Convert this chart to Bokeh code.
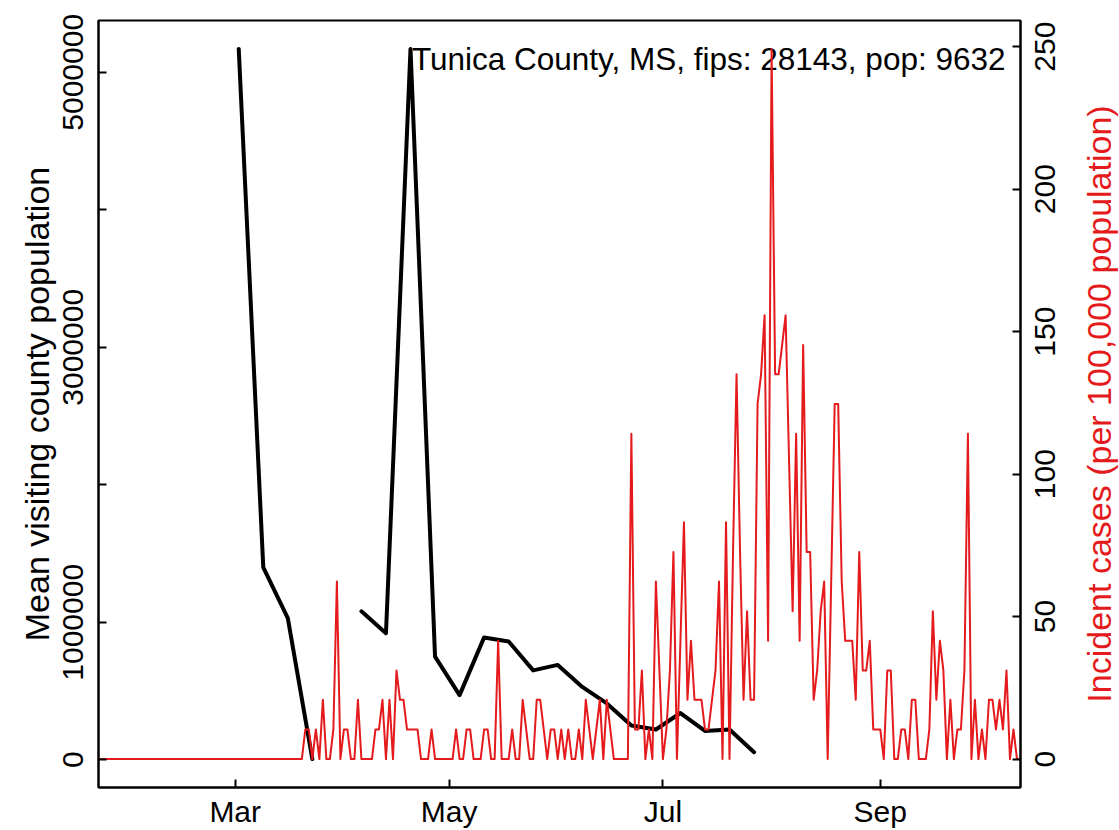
import math
import numpy as np
import pandas as pd
from bokeh.plotting import figure
from bokeh.layouts import row
from bokeh.models import (Range1d, LinearAxis, FixedTicker, Label,
                          DatetimeTickFormatter, ColumnDataSource)
from bokeh.core.properties import value
from bokeh.embed import file_html
from bokeh.resources import INLINE

county_text = "Tunica County, MS, fips: 28143, pop: 9632"

# ---- daily incident cases per 100,000 population (2020-01-22 .. 2020-10-11) ----
inc_jan = [0, 0, 0, 0, 0, 0, 0, 0, 0, 0]
inc_feb = [0, 0, 0, 0, 0, 0, 0, 0, 0, 0, 0, 0, 0, 0, 0, 0, 0, 0, 0, 0,
           0, 0, 0, 0, 0, 0, 0, 0, 0]
inc_mar = [0, 0, 0, 0, 0, 0, 0, 0, 0, 0, 0, 0, 0, 0, 0, 0, 0, 0, 0, 0,
           10.4, 10.4, 0, 10.4, 0, 20.8, 0, 0, 10.4, 62.3, 0]
inc_apr = [10.4, 10.4, 0, 0, 20.8, 0, 0, 0, 0, 10.4,
           10.4, 20.8, 0, 20.8, 0, 31.1, 20.8, 20.8, 10.4, 10.4,
           10.4, 10.4, 0, 0, 0, 10.4, 0, 0, 0, 0]
inc_may = [0, 0, 10.4, 0, 0, 10.4, 10.4, 0, 0, 0,
           10.4, 10.4, 0, 0, 41.5, 0, 0, 0, 10.4, 0,
           0, 20.8, 10.4, 0, 0, 20.8, 20.8, 10.4, 0, 10.4, 10.4]
inc_jun = [0, 10.4, 0, 10.4, 0, 0, 10.4, 0, 20.8, 10.4,
           0, 10.4, 20.8, 0, 20.8, 10.4, 0, 0, 0, 0,
           0, 114.2, 10.4, 10.4, 31.1, 0, 10.4, 0, 62.3, 31.1]
inc_jul = [0, 10.4, 31.1, 72.7, 0, 41.5, 83.1, 20.8, 41.5, 20.8,
           20.8, 20.8, 10.4, 10.4, 20.8, 31.1, 62.3, 0, 83.1, 0,
           72.7, 135.0, 72.7, 20.8, 51.9, 20.8, 20.8, 124.6, 135.0, 155.7, 41.5]
inc_aug = [249.2, 135.0, 135.0, 145.3, 155.7, 103.8, 51.9, 114.2, 41.5, 145.3,
           72.7, 72.7, 20.8, 31.1, 51.9, 62.3, 0, 62.3, 124.6, 124.6,
           62.3, 41.5, 41.5, 41.5, 20.8, 72.7, 31.1, 31.1, 41.5, 10.4, 10.4]
inc_sep = [10.4, 0, 31.1, 31.1, 0, 0, 10.4, 10.4, 0, 20.8,
           20.8, 0, 0, 0, 10.4, 51.9, 20.8, 41.5, 31.1, 0,
           20.8, 0, 10.4, 10.4, 31.1, 114.2, 0, 20.8, 0, 10.4]
inc_oct = [0, 20.8, 20.8, 10.4, 20.8, 10.4, 31.1, 0, 10.4, 0, 0]

# ---- weekly mean visiting county population ----
visit_start = "2020-03-02"
visit_vals = [5170000, 1400000, 1030000, 5000, np.nan, 1080000, 920000,
              5170000, 750000, 470000, 890000, 860000, 650000, 690000,
              530000, 410000, 250000, 220000, 340000, 210000, 220000, 55000]

# ---- tick labels / titles ----
month_ticks = ["2020-03-01", "2020-05-01", "2020-07-01", "2020-09-01"]
left_ticks = [0, 1000000, 2000000, 3000000, 4000000, 5000000]
left_labels = ["0", "1000000", "", "3000000", "", "5000000"]
right_ticks = [0, 50, 100, 150, 200, 250]
right_labels = ["0", "50", "100", "150", "200", "250"]
left_title = "Mean visiting county population"
right_title = "Incident cases (per 100,000 population)"

incidence = (inc_jan + inc_feb + inc_mar + inc_apr + inc_may + inc_jun +
             inc_jul + inc_aug + inc_sep + inc_oct)
inc_dates = pd.date_range("2020-01-22", periods=len(incidence), freq="D")
visit_dates = pd.date_range(visit_start, periods=len(visit_vals), freq="7D")

RED = "#E41A1C"
FONT = "Liberation Sans"
TICK_FS = "30px"
TITLE_FS = "34px"

FW, FH = 922, 767          # plot frame
TOP, BOTTOM = 20, 43       # borders above / below the frame
LEFT, RIGHT = 98, 2
SIDE_W = 1119 - LEFT - FW - RIGHT


def padded(vals):
    a = np.array(vals, dtype=float)
    lo, hi = np.nanmin(a), np.nanmax(a)
    d = hi - lo
    return lo - 0.04 * d, hi + 0.04 * d


ylo, yhi = padded(visit_vals)
rlo, rhi = padded(incidence)
inc_range = Range1d(rlo, rhi)

p = figure(frame_width=FW, frame_height=FH,
           min_border_left=LEFT, min_border_top=TOP,
           min_border_right=RIGHT, min_border_bottom=BOTTOM,
           x_axis_type="datetime",
           x_range=Range1d(inc_dates[0], inc_dates[-1]),
           y_range=Range1d(ylo, yhi),
           output_backend="svg", toolbar_location=None)
p.extra_y_ranges = {"inc": inc_range}
p.grid.visible = False
p.background_fill_color = "white"
p.border_fill_color = "white"
p.outline_line_color = "black"
p.outline_line_width = 2

# visiting population (left axis)
vsrc = ColumnDataSource(dict(x=visit_dates, y=visit_vals))
p.line("x", "y", source=vsrc, line_color="black", line_width=4,
       line_join="round", line_cap="round")

# county label (drawn under the red series)
p.add_layout(Label(x=FW - 15, y=FH - 38, x_units="screen", y_units="screen",
                   text=county_text, text_align="right",
                   text_baseline="alphabetic", text_font=FONT,
                   text_font_size="31.5px", text_color="black",
                   level="underlay"))

# incident cases (right axis)
isrc = ColumnDataSource(dict(x=inc_dates, y=incidence))
p.line("x", "y", source=isrc, line_color=RED, line_width=2,
       y_range_name="inc", line_join="round", line_cap="round")

raxis = LinearAxis(y_range_name="inc")
p.add_layout(raxis, "right")


def style_axis(ax):
    ax.axis_line_color = "black"
    ax.axis_line_width = 2
    ax.major_tick_line_color = "black"
    ax.major_tick_line_width = 2
    ax.major_tick_in = 8
    ax.major_tick_out = 0
    ax.minor_tick_line_color = None
    ax.major_label_text_font = FONT
    ax.major_label_text_font_size = TICK_FS
    ax.major_label_text_color = "black"
    ax.axis_label_text_font = FONT
    ax.axis_label_text_font_size = TITLE_FS
    ax.axis_label_text_font_style = "normal"
    ax.axis_label_text_color = "black"


xax = p.xaxis[0]
style_axis(xax)
xax.ticker = FixedTicker(ticks=[pd.Timestamp(d).value // 10**6 for d in month_ticks])
xax.formatter = DatetimeTickFormatter(
    microseconds="%b", milliseconds="%b", seconds="%b", minsec="%b",
    minutes="%b", hourmin="%b", hours="%b", days="%b", months="%b", years="%b")
xax.major_label_standoff = 7

lax = p.yaxis[0]
style_axis(lax)
lax.ticker = FixedTicker(ticks=left_ticks)
lax.major_label_overrides = {t: s for t, s in zip(left_ticks, left_labels)}
lax.major_label_orientation = "parallel"
lax.major_label_standoff = 15
lax.axis_label = left_title
lax.axis_label_standoff = 5

# right axis: ticks only here; its labels are set in the side panel
style_axis(raxis)
raxis.ticker = FixedTicker(ticks=right_ticks)
raxis.major_label_text_color = None
raxis.major_label_text_font_size = "1px"
raxis.major_label_orientation = "horizontal"
raxis.major_label_standoff = 0

# side panel sharing the right-axis scale, holding its rotated labels
side = figure(width=SIDE_W, height=TOP + FH + BOTTOM,
              min_border_left=0, min_border_right=0,
              min_border_top=TOP, min_border_bottom=BOTTOM,
              x_range=Range1d(0, SIDE_W), y_range=inc_range,
              x_axis_location=None, y_axis_location=None,
              output_backend="svg", toolbar_location=None)
side.grid.visible = False
side.outline_line_color = None
side.background_fill_color = "white"
side.border_fill_color = "white"
side.text(x=[22] * len(right_ticks), y=right_ticks, text=right_labels,
          angle=math.pi / 2, text_align="center", text_baseline="middle",
          text_font=value(FONT), text_font_size=value(TICK_FS),
          text_color="black")
side.text(x=[76], y=[(rlo + rhi) / 2], text=[right_title],
          angle=math.pi / 2, text_align="center", text_baseline="middle",
          text_font=value(FONT), text_font_size=value(TITLE_FS),
          text_color=RED)

layout = row(p, side, spacing=0)
open("out.html", "w").write(file_html(layout, INLINE))
